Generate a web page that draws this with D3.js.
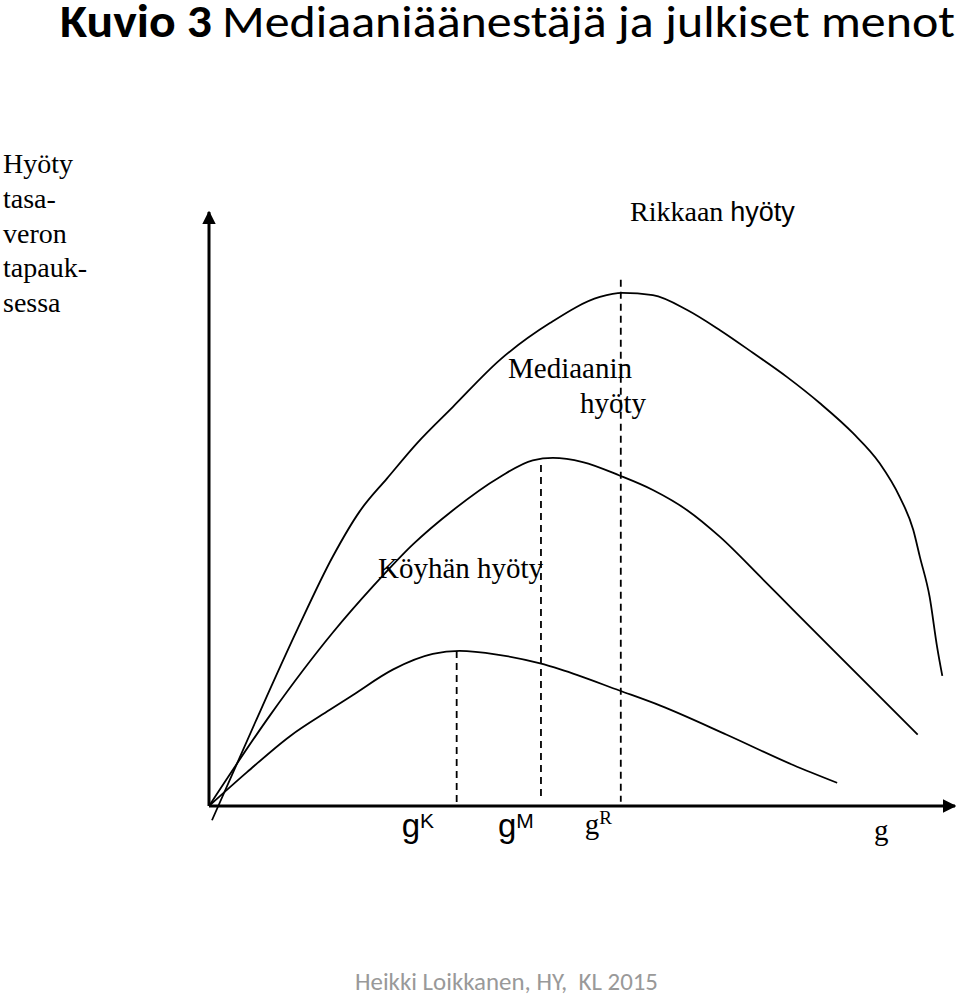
<!DOCTYPE html>
<html>
<head>
<meta charset="utf-8">
<script src="https://cdn.jsdelivr.net/npm/d3@7"></script>
<style>
  body { margin: 0; background: #fff; }
</style>
</head>
<body>
<div id="chart"></div>
<script>
// ---------------------- data ---------------------
// g = public spending (0..100), u = utility (0..100)
var richG   = [0.4, 6.2, 11.8, 16.6, 20.2, 23.9, 27.9, 32.7, 39.0, 45.7, 52.4, 55.4, 59.5, 64.1, 68.5, 72.9, 77.5, 81.9, 86.3, 89.9, 92.6, 94.4, 95.3, 96.6, 97.6, 98.3];
var richU   = [-2.4, 14.1, 29.6, 42.0, 49.6, 55.2, 61.1, 67.2, 75.1, 81.3, 85.7, 86.4, 86.0, 83.5, 80.1, 76.3, 72.2, 67.8, 62.8, 57.7, 52.0, 46.5, 41.9, 35.2, 26.8, 21.9];

var medianG = [0, 8.2, 16.6, 22.0, 27.3, 32.7, 39.0, 43.4, 46.1, 50.1, 55.1, 59.5, 64.1, 68.5, 73.9, 78.3, 87.3, 95.0];
var medianU = [0, 15.3, 29.2, 37.0, 44.0, 49.8, 55.4, 58.2, 58.6, 57.9, 55.6, 53.2, 49.8, 45.3, 38.6, 33.0, 21.7, 12.0];

var poorG   = [0, 5.1, 10.9, 16.2, 19.3, 24.7, 30.0, 33.6, 38.6, 44.4, 47.1, 55.1, 60.5, 69.4, 78.3, 84.2];
var poorU   = [0, 5.7, 11.8, 16.2, 18.7, 23.0, 25.6, 26.1, 25.5, 24.0, 23.0, 19.4, 16.9, 12.0, 6.9, 3.9];

// optimum spending of each voter: g, top and bottom of the dashed line
var optNames = ["K", "M", "R"];
var optG     = [33.2, 44.5, 55.2];
var optTop   = [26.1, 57.4, 88.6];
var optBot   = [0, 1.5, 0.7];

var leftLabel = ["Hyöty", "tasa-", "veron", "tapauk-", "sessa"];

// ---------------------- svg ---------------------
var W = 960, H = 996;
var svg = d3.select("#chart")
     .append("svg")
     .attr("width", W)
     .attr("height", H);

var x = d3.scaleLinear().domain([0, 100]).range([209, 955]);
var y = d3.scaleLinear().domain([0, 100]).range([806, 212]);

var serif = "'Liberation Serif', 'Times New Roman', serif";
var sans  = "'Liberation Sans', Arial, sans-serif";
var calib = "Carlito, 'Liberation Sans Narrow', 'Liberation Sans', sans-serif";

// ---------------------- title (narrow and tall like Calibri) ---------------------
var titleG = svg.append("g")
     .attr("transform", "translate(0,37) scale(1,1.15)");

titleG.append("text")
     .attr("x", 60)
     .attr("y", 0)
     .attr("textLength", 152)
     .attr("lengthAdjust", "spacingAndGlyphs")
     .style("font-family", calib)
     .style("font-size", "40px")
     .style("font-weight", "bold")
     .text("Kuvio 3");

titleG.append("text")
     .attr("x", 222)
     .attr("y", 0)
     .attr("textLength", 733)
     .attr("lengthAdjust", "spacingAndGlyphs")
     .style("font-family", calib)
     .style("font-size", "40px")
     .text("Mediaaniäänestäjä ja julkiset menot");

// ---------------------- axes with arrow heads ---------------------
var defs = svg.append("defs");
defs.append("marker")
     .attr("id", "arrow")
     .attr("viewBox", "0 0 10 10")
     .attr("refX", 9)
     .attr("refY", 5)
     .attr("markerWidth", 4.5)
     .attr("markerHeight", 4.5)
     .attr("markerUnits", "strokeWidth")
     .attr("orient", "auto")
     .append("path")
     .attr("d", "M0,0 L10,5 L0,10 z")
     .attr("fill", "#000");

svg.append("line")
     .attr("x1", x(0)).attr("y1", y(0))
     .attr("x2", x(0)).attr("y2", y(100))
     .attr("stroke", "#000")
     .attr("stroke-width", 3)
     .attr("marker-end", "url(#arrow)");

svg.append("line")
     .attr("x1", x(0)).attr("y1", y(0))
     .attr("x2", x(100)).attr("y2", y(0))
     .attr("stroke", "#000")
     .attr("stroke-width", 3)
     .attr("marker-end", "url(#arrow)");

// ---------------------- dashed optimum lines ---------------------
svg.selectAll("line.opt")
     .data(optG)
     .enter()
     .append("line")
     .attr("class", "opt")
     .attr("x1", function(d) { return x(d); })
     .attr("x2", function(d) { return x(d); })
     .attr("y1", function(d, i) { return y(optTop[i]); })
     .attr("y2", function(d, i) { return y(optBot[i]); })
     .attr("stroke", "#000")
     .attr("stroke-width", 1.8)
     .attr("stroke-dasharray", "7,5");

// ---------------------- utility curves ---------------------
var line = d3.line()
     .x(function(d) { return x(d[0]); })
     .y(function(d) { return y(d[1]); })
     .curve(d3.curveMonotoneX);

var curves = [d3.zip(richG, richU), d3.zip(medianG, medianU), d3.zip(poorG, poorU)];

svg.selectAll("path.curve")
     .data(curves)
     .enter()
     .append("path")
     .attr("class", "curve")
     .attr("d", line)
     .attr("fill", "none")
     .attr("stroke", "#000")
     .attr("stroke-width", 1.8);

// ---------------------- curve labels ---------------------
var rik = svg.append("text")
     .attr("x", 630)
     .attr("y", 221)
     .style("font-size", "28px");
rik.append("tspan").style("font-family", serif).text("Rikkaan ");
rik.append("tspan").style("font-family", sans).style("font-size", "27px").text("hyöty");

svg.append("text")
     .attr("x", 508).attr("y", 378)
     .style("font-family", serif)
     .style("font-size", "29px")
     .text("Mediaanin");
svg.append("text")
     .attr("x", 580).attr("y", 413)
     .style("font-family", serif)
     .style("font-size", "29px")
     .text("hyöty");

svg.append("text")
     .attr("x", 378).attr("y", 578)
     .style("font-family", serif)
     .style("font-size", "29px")
     .text("Köyhän hyöty");

// ---------------------- y axis label ---------------------
svg.selectAll("text.ylab")
     .data(leftLabel)
     .enter()
     .append("text")
     .attr("class", "ylab")
     .attr("x", 3)
     .attr("y", function(d, i) { return 173 + i * 34.8; })
     .style("font-family", serif)
     .style("font-size", "28px")
     .text(function(d) { return d; });

// ---------------------- x axis labels ---------------------
var optFonts = [sans, sans, serif];
var optText = svg.selectAll("text.optlab")
     .data(optNames)
     .enter()
     .append("text")
     .attr("class", "optlab")
     .attr("x", function(d, i) { return x(optG[i]) - (i == 2 ? 36 : 55 - i * 12); })
     .attr("y", function(d, i) { return i == 2 ? 834 : 837; })
     .style("font-family", function(d, i) { return optFonts[i]; })
     .style("font-size", function(d, i) { return i == 2 ? "29px" : "33px"; });
optText.append("tspan").text("g");
optText.append("tspan")
     .attr("dy", function(d, i) { return i == 2 ? -10 : -9; })
     .style("font-size", function(d, i) { return i == 2 ? "19px" : "21px"; })
     .text(function(d) { return d; });

svg.append("text")
     .attr("x", 874).attr("y", 840)
     .style("font-family", serif)
     .style("font-size", "29px")
     .text("g");

// ---------------------- footer ---------------------
svg.append("text")
     .attr("x", 355)
     .attr("y", 990)
     .attr("textLength", 303)
     .attr("lengthAdjust", "spacingAndGlyphs")
     .style("font-family", calib)
     .style("font-size", "25px")
     .style("fill", "#999")
     .style("white-space", "pre")
     .text("Heikki Loikkanen, HY,  KL 2015");
</script>
</body>
</html>
